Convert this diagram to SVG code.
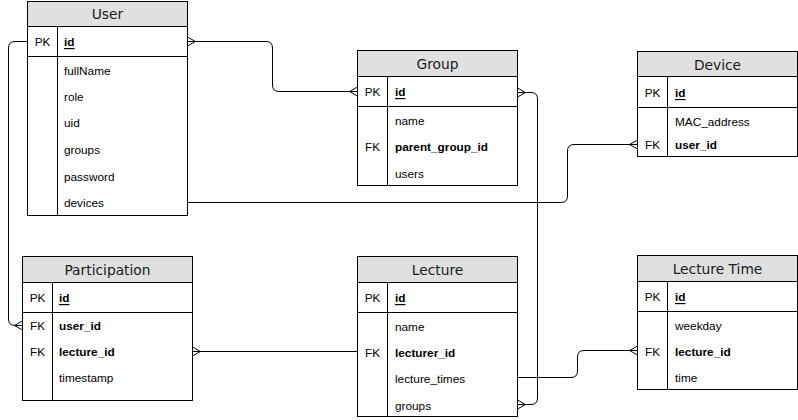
<svg xmlns="http://www.w3.org/2000/svg" width="798" height="420" viewBox="0 0 798 420">
<style>
.box{fill:#fff;stroke:#000;stroke-width:1}
.hdr{fill:#e0e0e0;stroke:#000;stroke-width:1}
.ln{stroke:#000;stroke-width:1;fill:none}
.ttl{font-family:"DejaVu Sans",sans-serif;font-size:13.8px;fill:#1a1a1a;text-anchor:middle;dominant-baseline:central}
.k{font-family:"Liberation Sans",Arial,sans-serif;font-size:11.8px;fill:#000;text-anchor:middle;dominant-baseline:central}
.f{font-family:"Liberation Sans",Arial,sans-serif;font-size:11.8px;fill:#000;dominant-baseline:central}
.b{font-weight:bold}
.u{font-weight:bold;text-decoration:underline}
.c{stroke:#000;stroke-width:1;fill:none}
</style>
<defs>
<marker id="many" markerUnits="userSpaceOnUse" markerWidth="12" markerHeight="12" viewBox="-10 -6 12 12" refX="0" refY="0" orient="auto-start-reverse">
<path d="M-8,0 L0,-4.5 M-8,0 L0,4.5" fill="none" stroke="#000" stroke-width="1"/>
</marker>
</defs>

<g id="connectors">
<path class="c" d="M187.5,41.5 H266 Q272.5,41.5 272.5,48 V85 Q272.5,91.5 279,91.5 H357.5" marker-start="url(#many)" marker-end="url(#many)"/>
<path class="c" d="M517.5,92.5 H531 Q537.5,92.5 537.5,99 V398 Q537.5,404.5 531,404.5 H517.5" marker-start="url(#many)" marker-end="url(#many)"/>
<path class="c" d="M187.5,202.5 H561 Q567.5,202.5 567.5,196 V151 Q567.5,144.5 574,144.5 H637.5" marker-end="url(#many)"/>
<path class="c" d="M27.5,41.5 H15 Q8.5,41.5 8.5,48 V319 Q8.5,325.5 15,325.5 H22.5" marker-end="url(#many)"/>
<path class="c" d="M192.5,351.5 H357.5" marker-start="url(#many)"/>
<path class="c" d="M517.5,377.5 H571 Q577.5,377.5 577.5,371 V357 Q577.5,350.5 584,350.5 H637.5" marker-end="url(#many)"/>
</g>

<g id="user">
<rect class="box" x="27.5" y="1.5" width="160" height="214"/>
<rect class="hdr" x="27.5" y="1.5" width="160" height="25"/>
<line class="ln" x1="27.5" y1="56.5" x2="187.5" y2="56.5"/>
<line class="ln" x1="57.5" y1="26.5" x2="57.5" y2="215.5"/>
<text class="ttl" x="107.5" y="14">User</text>
<text class="k" x="42.5" y="42">PK</text>
<text class="f u" x="64" y="42">id</text>
<text class="f" x="64" y="71">fullName</text>
<text class="f" x="64" y="97">role</text>
<text class="f" x="64" y="123">uid</text>
<text class="f" x="64" y="150">groups</text>
<text class="f" x="64" y="177">password</text>
<text class="f" x="64" y="203">devices</text>
</g>

<g id="group">
<rect class="box" x="357.5" y="50.5" width="160" height="135"/>
<rect class="hdr" x="357.5" y="50.5" width="160" height="26"/>
<line class="ln" x1="357.5" y1="106.5" x2="517.5" y2="106.5"/>
<line class="ln" x1="387.5" y1="76.5" x2="387.5" y2="185.5"/>
<text class="ttl" x="437.5" y="64">Group</text>
<text class="k" x="372.5" y="92">PK</text>
<text class="f u" x="395" y="92">id</text>
<text class="f" x="395" y="121">name</text>
<text class="k" x="372.5" y="147">FK</text>
<text class="f b" x="395" y="147">parent_group_id</text>
<text class="f" x="395" y="174">users</text>
</g>

<g id="device">
<rect class="box" x="637.5" y="51.5" width="160" height="105"/>
<rect class="hdr" x="637.5" y="51.5" width="160" height="25"/>
<line class="ln" x1="637.5" y1="107.5" x2="797.5" y2="107.5"/>
<line class="ln" x1="667.5" y1="76.5" x2="667.5" y2="156.5"/>
<text class="ttl" x="717.5" y="65">Device</text>
<text class="k" x="652.5" y="93">PK</text>
<text class="f u" x="675" y="93">id</text>
<text class="f" x="675" y="122">MAC_address</text>
<text class="k" x="652.5" y="145">FK</text>
<text class="f b" x="675" y="145">user_id</text>
</g>

<g id="participation">
<rect class="box" x="22.5" y="256.5" width="170" height="144"/>
<rect class="hdr" x="22.5" y="256.5" width="170" height="26"/>
<line class="ln" x1="22.5" y1="312.5" x2="192.5" y2="312.5"/>
<line class="ln" x1="52.5" y1="282.5" x2="52.5" y2="400.5"/>
<text class="ttl" x="107.5" y="270">Participation</text>
<text class="k" x="37.5" y="298">PK</text>
<text class="f u" x="59" y="298">id</text>
<text class="k" x="37.5" y="326">FK</text>
<text class="f b" x="59" y="326">user_id</text>
<text class="k" x="37.5" y="352">FK</text>
<text class="f b" x="59" y="352">lecture_id</text>
<text class="f" x="59" y="378">timestamp</text>
</g>

<g id="lecture">
<rect class="box" x="357.5" y="256.5" width="160" height="160"/>
<rect class="hdr" x="357.5" y="256.5" width="160" height="26"/>
<line class="ln" x1="357.5" y1="312.5" x2="517.5" y2="312.5"/>
<line class="ln" x1="387.5" y1="282.5" x2="387.5" y2="416.5"/>
<text class="ttl" x="437.5" y="270">Lecture</text>
<text class="k" x="372.5" y="298">PK</text>
<text class="f u" x="395" y="298">id</text>
<text class="f" x="395" y="327">name</text>
<text class="k" x="372.5" y="353">FK</text>
<text class="f b" x="395" y="353">lecturer_id</text>
<text class="f" x="395" y="379">lecture_times</text>
<text class="f" x="395" y="406">groups</text>
</g>

<g id="lecture-time">
<rect class="box" x="637.5" y="255.5" width="160" height="134"/>
<rect class="hdr" x="637.5" y="255.5" width="160" height="26"/>
<line class="ln" x1="637.5" y1="311.5" x2="797.5" y2="311.5"/>
<line class="ln" x1="667.5" y1="281.5" x2="667.5" y2="389.5"/>
<text class="ttl" x="717.5" y="269">Lecture Time</text>
<text class="k" x="652.5" y="297">PK</text>
<text class="f u" x="675" y="297">id</text>
<text class="f" x="675" y="326">weekday</text>
<text class="k" x="652.5" y="352">FK</text>
<text class="f b" x="675" y="352">lecture_id</text>
<text class="f" x="675" y="378">time</text>
</g>
</svg>
